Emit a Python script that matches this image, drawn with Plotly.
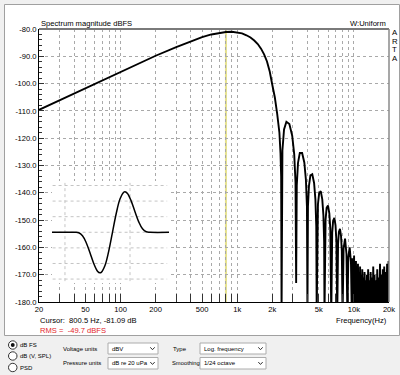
import math
import plotly.graph_objects as go

# ---------------- data ----------------
freq_hz = [20, 25, 30, 40, 50, 70, 100, 150, 200, 300, 400, 500, 600, 700, 800, 900,
           1000, 1100, 1200, 1300, 1400, 1500, 1600, 1700, 1800, 1900, 2000, 2100,
           2200, 2250, 2300, 2350, 2380, 2400,
           2440, 2520, 2640, 2800, 2960, 3080, 3160, 3200,
           3240, 3320, 3440, 3600, 3760, 3880, 3960, 4000,
           4040, 4120, 4240, 4400, 4560, 4680, 4760, 4800,
           4840, 4920, 5040, 5200, 5360, 5480, 5560, 5600,
           5720, 5840, 6000, 6160, 6280, 6400,
           6520, 6640, 6800, 6960, 7080, 7200,
           7320, 7440, 7600, 7760, 7880, 8000,
           8160, 8400, 8640, 8800,
           8960, 9200, 9440, 9600,
           9700, 9780, 9860, 9950, 10040, 10130, 10220, 10320, 10420, 10520,
           10620, 10730, 10840, 10950, 11060, 11180, 11300, 11420, 11540, 11670,
           11800, 11930, 12060, 12200, 12340, 12480, 12630, 12780, 12930, 13090,
           13250, 13410, 13580, 13750, 13920, 14100, 14280, 14460, 14650, 14840,
           15040, 15240, 15440, 15650, 15860, 16080, 16300, 16520, 16750, 16980,
           17220, 17460, 17700, 17950, 18200, 18460, 18720, 18990, 19260, 19540,
           19820, 20000]
mag_db = [-109.6, -107.7, -106.1, -103.6, -101.7, -98.8, -95.7, -92.2, -89.8, -86.6, -84.5, -83.0, -82.0, -81.4, -81.1, -81.0,
          -81.2, -81.6, -82.3, -83.1, -84.2, -85.5, -87.2, -89.3, -91.9, -95.6, -100.5, -105.0,
          -111.0, -114.0, -118.0, -125.5, -134.0, -185,
          -124.5, -116.8, -114.0, -114.8, -119.1, -125.8, -136.2, -173,
          -137.2, -129.0, -125.4, -125.4, -128.9, -135.2, -145.2, -185,
          -145.0, -137.5, -133.6, -133.2, -136.4, -142.4, -152.3, -185,
          -152.9, -144.2, -140.1, -139.4, -142.4, -148.2, -158.0, -185,
          -149.8, -145.5, -144.7, -147.5, -153.2, -185,
          -154.6, -150.2, -149.2, -151.9, -157.5, -185,
          -158.7, -154.3, -153.2, -155.8, -161.4, -185,
          -160.4, -156.8, -162.4, -185,
          -163.7, -160.0, -165.5, -185,
          -164, -179, -166, -183, -163, -178, -167, -185, -165, -180,
          -168, -186, -166, -181, -169, -184, -167, -179, -170, -187,
          -168, -182, -171, -185, -169, -180, -172, -186, -170, -183,
          -168, -181, -172, -188, -169, -182, -171, -184, -167, -180,
          -170, -186, -172, -183, -168, -181, -171, -185, -166, -182,
          -170, -187, -168, -180, -167, -184, -169, -182, -166, -186,
          -165, -183]

inset_t_ms = [-0.40, 0.0, 0.0625, 0.125, 0.1875, 0.25, 0.3125, 0.375, 0.417, 0.4375, 0.5, 0.5625, 0.625,
              0.6875, 0.75, 0.8125, 0.833, 0.875, 0.9375, 1.0, 1.0625, 1.125, 1.1875, 1.25, 1.60]
inset_amp = [0.0, 0.0, -0.008, -0.056, -0.167, -0.329, -0.500, -0.623, -0.650, -0.642, -0.532, -0.301, 0.0,
             0.301, 0.532, 0.642, 0.650, 0.623, 0.500, 0.329, 0.167, 0.056, 0.008, 0.0, 0.0]

grid_freqs = [20, 30, 40, 50, 60, 70, 80, 90, 100, 200, 300, 400, 500, 600, 700, 800, 900,
              1000, 2000, 3000, 4000, 5000, 6000, 7000, 8000, 9000, 10000, 20000]
freq_labels = {20: "20", 50: "50", 100: "100", 200: "200", 500: "500", 1000: "1k",
               2000: "2k", 5000: "5k", 10000: "10k", 20000: "20k"}
db_ticks = [-80, -90, -100, -110, -120, -130, -140, -150, -160, -170, -180]
inset_hgrid = [-0.75, -0.5, -0.25, 0.0, 0.25, 0.5, 0.75]
inset_vgrid = [-0.167, 0.917]
cursor_hz = 800.5

# ---------------- geometry helpers (pixels -> paper) ----------------
W, H = 400, 375
L, R, T, B = 39, 389, 29, 302


def px(x):
    return (x - L) / (R - L)


def py(y):
    return (B - y) / (B - T)


FONT = "Liberation Sans, Arial, sans-serif"
GRID = "#a9a9a9"

fig = go.Figure()

# main spectrum
fig.add_trace(go.Scatter(x=freq_hz, y=mag_db, mode="lines",
                         line=dict(color="#000000", width=1.9),
                         xaxis="x", yaxis="y", hoverinfo="skip"))

# inset: background, grid and waveform
ix0, ix1 = -0.383, 1.567
iy0, iy1 = -0.813, 0.822
fig.add_trace(go.Scatter(x=[ix0, ix1, ix1, ix0, ix0], y=[iy0, iy0, iy1, iy1, iy0],
                         mode="lines", fill="toself", fillcolor="white",
                         line=dict(width=0, color="white"),
                         xaxis="x2", yaxis="y2", hoverinfo="skip"))
hx, hy = [], []
for a in inset_hgrid:
    hx += [ix0 + 0.01, ix1 - 0.03, None]
    hy += [a, a, None]
fig.add_trace(go.Scatter(x=hx, y=hy, mode="lines",
                         line=dict(color="#c4c4c4", width=1, dash="dot"),
                         xaxis="x2", yaxis="y2", hoverinfo="skip"))
vx, vy = [], []
for t in inset_vgrid:
    vx += [t, t, None]
    vy += [iy0 + 0.03, iy1 - 0.03, None]
fig.add_trace(go.Scatter(x=vx, y=vy, mode="lines",
                         line=dict(color="#c4c4c4", width=1, dash="dot"),
                         xaxis="x2", yaxis="y2", hoverinfo="skip"))
fig.add_trace(go.Scatter(x=inset_t_ms, y=inset_amp, mode="lines", line_shape="spline",
                         line=dict(color="#000000", width=1.5),
                         xaxis="x2", yaxis="y2", hoverinfo="skip"))

shapes = []
annotations = []

# window frame
shapes.append(dict(type="rect", xref="paper", yref="paper", x0=px(4.5), x1=px(399.5), y0=py(335.5), y1=py(4.5),
                   fillcolor="white", line=dict(color="#a0a0a0", width=1), layer="below"))
# cursor line
shapes.append(dict(type="line", xref="x", yref="paper", x0=cursor_hz, x1=cursor_hz, y0=0, y1=1,
                   line=dict(color="#e4e08c", width=2), layer="between"))
# top and right border
shapes.append(dict(type="line", xref="paper", yref="paper", x0=0, x1=1, y0=1, y1=1,
                   line=dict(color="#7a7a7a", width=2), layer="above"))
shapes.append(dict(type="line", xref="paper", yref="paper", x0=1, x1=1, y0=0, y1=1,
                   line=dict(color="#8a8a8a", width=1.5), layer="above"))


def text(x, y, s, size=7.5, color="#000000", xanchor="left", yanchor="middle"):
    annotations.append(dict(xref="paper", yref="paper", x=px(x), y=py(y), text=s, showarrow=False,
                            xanchor=xanchor, yanchor=yanchor, borderpad=0,
                            font=dict(family=FONT, size=size, color=color)))


text(40, 23.5, "Spectrum magnitude dBFS", 7.6)
text(387, 23.5, "W:Uniform", 7.6, xanchor="right")
for i, ch in enumerate("ARTA"):
    text(390.5, 33 + i * 8.4, ch, 7.8, xanchor="left")
text(39, 320, "Cursor:\u00a0\u00a0800.5 Hz, -81.09 dB", 7.6)
text(39, 330, "RMS =\u00a0\u00a0-49.7 dBFS", 7.6, color="#e3262b")
text(388, 320, "Frequency(Hz)", 7.6, xanchor="right")

# control panel
PF = 6.0
radios = [(345, "dB FS", True), (356, "dB (V, SPL)", False), (367.5, "PSD", False)]
for yy, lab, on in radios:
    shapes.append(dict(type="circle", xref="paper", yref="paper", x0=px(8.5), x1=px(17), y0=py(yy + 4.2), y1=py(yy - 4.2),
                       fillcolor="white", line=dict(color="#333333", width=1), layer="above"))
    if on:
        shapes.append(dict(type="circle", xref="paper", yref="paper", x0=px(10.8), x1=px(14.7), y0=py(yy + 1.9), y1=py(yy - 1.9),
                           fillcolor="#111111", line=dict(color="#111111", width=0), layer="above"))
    text(18.5, yy, lab, PF)

text(62, 348.5, "Voltage units", PF)
text(62, 363, "Pressure units", PF)
text(171.5, 348.5, "Type", PF)
text(170.5, 363, "Smoothing", 5.8)

dropdowns = [(108, 158, 343, 354, "dBV"), (108, 158, 357.5, 369, "dB re 20 uPa"),
             (200, 266, 343, 354, "Log. frequency"), (200, 266, 357.5, 369, "1/24 octave")]
for x0, x1, y0, y1, lab in dropdowns:
    shapes.append(dict(type="rect", xref="paper", yref="paper", x0=px(x0), x1=px(x1), y0=py(y1), y1=py(y0),
                       fillcolor="white", line=dict(color="#acacac", width=1), layer="above"))
    cx, cy = x1 - 5.5, (y0 + y1) / 2
    path = "M %f,%f L %f,%f L %f,%f" % (px(cx - 2.2), py(cy - 1.2), px(cx), py(cy + 1.2), px(cx + 2.2), py(cy - 1.2))
    shapes.append(dict(type="path", xref="paper", yref="paper", path=path,
                       line=dict(color="#333333", width=1), layer="above"))
    text(x0 + 3, (y0 + y1) / 2, lab, PF)

fig.update_layout(
    width=W, height=H, autosize=False,
    margin=dict(l=L, r=W - R, t=T, b=H - B, pad=0, autoexpand=False),
    paper_bgcolor="#f0f0f0", plot_bgcolor="white",
    showlegend=False,
    font=dict(family=FONT, size=7.5, color="#000000"),
    shapes=shapes, annotations=annotations,
    xaxis=dict(type="log", range=[math.log10(20), math.log10(20000)], domain=[0, 1],
               tickvals=grid_freqs, ticktext=[freq_labels.get(f, "") for f in grid_freqs],
               showgrid=True, gridcolor=GRID, griddash="dot", gridwidth=1,
               ticks="inside", ticklen=8, tickcolor="#333333", tickwidth=1,
               showline=True, linecolor="#000000", linewidth=1, zeroline=False, automargin=False,
               tickfont=dict(family=FONT, size=7.6, color="#000000"), fixedrange=True),
    yaxis=dict(range=[-180, -80], domain=[0, 1], tickvals=db_ticks,
               ticktext=["%.1f" % v for v in db_ticks],
               showgrid=True, gridcolor=GRID, griddash="dot", gridwidth=1,
               ticks="inside", ticklen=5, tickcolor="#333333", tickwidth=1,
               minor=dict(dtick=2, ticks="inside", ticklen=3, tickcolor="#333333", showgrid=False),
               showline=True, linecolor="#000000", linewidth=1, zeroline=False, automargin=False,
               tickfont=dict(family=FONT, size=7.6, color="#000000"), fixedrange=True),
    xaxis2=dict(domain=[px(52), px(169)], anchor="y2", range=[ix0, ix1], visible=False, fixedrange=True),
    yaxis2=dict(domain=[py(283), py(181)], anchor="x2", range=[iy0, iy1], visible=False, fixedrange=True),
)

fig.write_html("out.html", config={"displayModeBar": False},
               post_script="document.body.style.margin='0px';document.body.style.overflow='hidden';")
